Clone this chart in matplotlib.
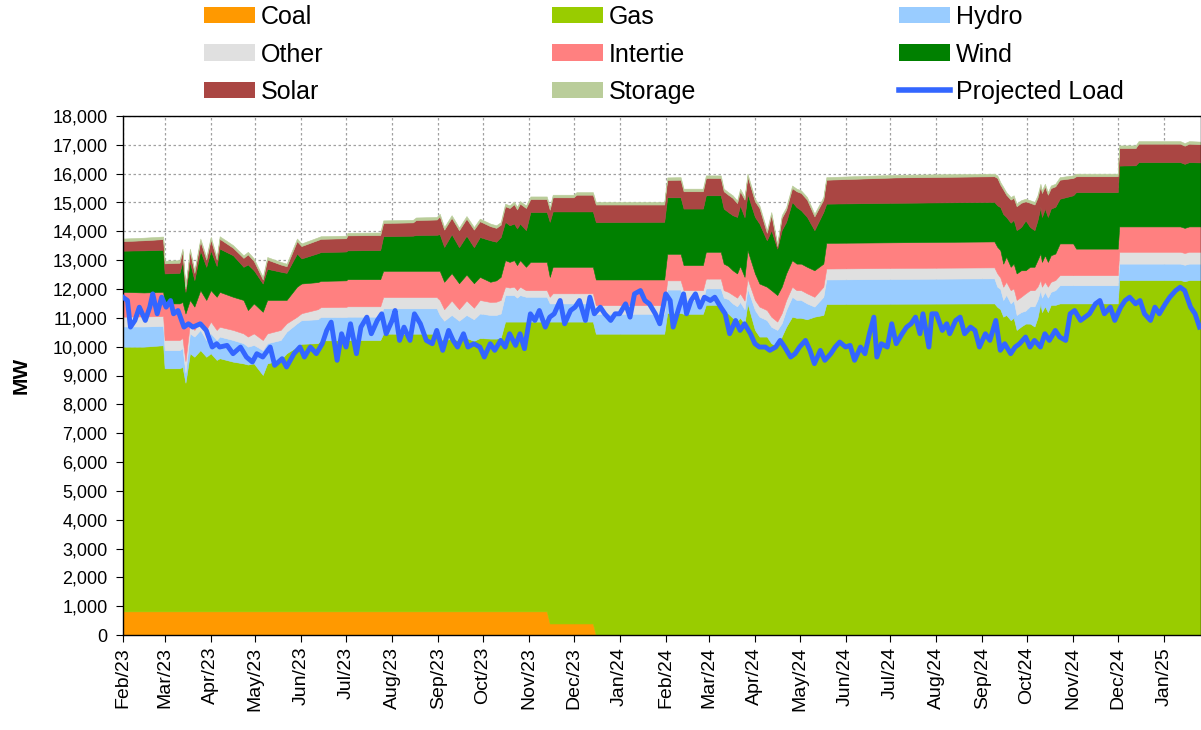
import numpy as np
import pandas as pd
import matplotlib
matplotlib.use("Agg")
import matplotlib.pyplot as plt
import matplotlib.dates as mdates
from matplotlib.patches import Patch
from matplotlib.lines import Line2D
from matplotlib.ticker import FuncFormatter, MultipleLocator

plt.rcParams["font.family"] = ["Liberation Sans", "DejaVu Sans"]

START = pd.Timestamp("2023-02-01")

# supply stack (MW), read at break points; days counted from 1 Feb 2023
stack_day = [0, 14, 27, 28, 38, 40, 42, 45, 48, 52, 56, 59, 63, 65, 74, 81, 84, 88, 94, 97,
             106, 110, 117, 120, 131, 133, 150, 151, 173, 175, 195, 197, 211, 213, 216, 221,
             226, 231, 236, 240, 247, 251, 254, 257, 260, 263, 265, 267, 271, 274, 285, 287,
             289, 303, 305, 316, 318, 364, 366, 375, 377, 390, 392, 402, 404, 407, 410, 413,
             415, 418, 420, 425, 428, 433, 436, 440, 443, 446, 450, 453, 456, 460, 465, 471,
             473, 520, 586, 588, 590, 592, 594, 597, 599, 601, 604, 607, 610, 613, 615, 617,
             618, 620, 622, 624, 627, 630, 639, 641, 669, 670, 681, 683, 711, 714, 717, 725]
coal = [820, 820, 820, 820, 820, 820, 820, 820, 820, 820, 820, 820, 820, 820, 820,
        820, 820, 820, 820, 820, 820, 820, 820, 820, 820, 820, 820, 820, 820, 820, 820, 820,
        820, 820, 820, 820, 820, 820, 820, 820, 820, 820, 820, 820, 820, 820, 820, 820, 820,
        820, 820, 400, 400, 400, 400, 400, 0, 0, 0, 0, 0, 0, 0, 0, 0, 0, 0, 0, 0, 0, 0, 0, 0,
        0, 0, 0, 0, 0, 0, 0, 0, 0, 0, 0, 0, 0, 0, 0, 0, 0, 0, 0, 0, 0, 0, 0, 0, 0, 0, 0, 0, 0,
        0, 0, 0, 0, 0, 0, 0, 0, 0, 0, 0, 0, 0, 0]
gas = [9180, 9180, 9230, 8430, 8430, 8480, 7930, 8950, 8830, 9060, 8830, 8950, 8720, 8780,
       8660, 8600, 8560, 8600, 8200, 8600, 8720, 8950, 9180, 9280, 9300, 9400, 9400, 9410,
       9410, 9630, 9630, 9630, 9630, 9480, 9380, 9480, 9380, 9480, 9380, 9480, 9460, 9460,
       9480, 10050, 10050, 10050, 10050, 10050, 10050, 10050, 10050, 10470, 10470, 10470,
       10470, 10470, 10450, 10450, 11170, 11170, 11140, 11140, 11450, 11450, 11200, 11150,
       11000, 10900, 11000, 10800, 11500, 10580, 10350, 10350, 10120, 10000, 10350, 10690,
       11040, 11000, 11000, 10950, 11040, 11100, 11480, 11490, 11500, 11380, 11300, 11040,
       11100, 10920, 11000, 10580, 10700, 10800, 10800, 10700, 11000, 11500, 11200, 11400,
       11200, 11450, 11450, 11500, 11500, 11500, 11500, 12310, 12310, 12310, 12310, 12270,
       12310, 12310]
hydro = [700, 700, 670, 630, 630, 650, 350, 690, 700, 700, 580, 690, 690, 750, 750, 700, 620,
         640, 860, 700, 690, 750, 810, 820, 830, 810, 810, 810, 810, 880, 880, 880, 880, 800,
         700, 800, 700, 800, 750, 850, 820, 820, 850, 920, 920, 920, 830, 920, 860, 860, 860,
         630, 630, 630, 630, 630, 690, 690, 810, 810, 480, 480, 570, 570, 500, 500, 500, 500,
         550, 500, 520, 690, 690, 570, 570, 580, 460, 580, 690, 620, 620, 550, 350, 630, 850,
         860, 870, 700, 700, 580, 700, 580, 600, 520, 500, 450, 600, 700, 620, 460, 500, 500,
         500, 450, 510, 630, 630, 630, 630, 570, 570, 570, 570, 570, 570, 570]
other = [340, 350, 340, 350, 350, 350, 400, 350, 230, 340, 350, 410, 350, 340, 350, 340, 350,
         400, 350, 340, 350, 290, 230, 240, 350, 340, 350, 360, 360, 390, 390, 390, 390, 520,
         400, 500, 400, 500, 400, 470, 450, 460, 470, 290, 260, 290, 260, 290, 230, 230, 230,
         230, 350, 350, 350, 350, 300, 300, 320, 320, 340, 340, 340, 340, 260, 250, 300, 300,
         300, 300, 340, 350, 350, 350, 350, 290, 350, 350, 350, 340, 340, 350, 340, 350, 380,
         380, 380, 460, 400, 460, 450, 460, 420, 520, 530, 600, 560, 560, 460, 350, 380, 350,
         380, 350, 350, 350, 350, 350, 350, 410, 410, 410, 410, 410, 410, 410]
intertie = [860, 830, 840, 1270, 1270, 1250, 1650, 810, 810, 1040, 1040, 1090, 1150, 1210, 1150,
            1160, 920, 1040, 980, 1160, 1040, 810, 1040, 1030, 940, 910, 920, 940, 940, 910, 910,
            910, 910, 1010, 950, 950, 900, 900, 850, 800, 700, 740, 800, 920, 890, 920, 870, 920,
            810, 980, 980, 690, 920, 920, 920, 920, 890, 890, 920, 920, 870, 870, 930, 930, 920,
            900, 850, 840, 950, 820, 990, 920, 800, 810, 920, 920, 920, 920, 920, 920, 920, 920,
            920, 800, 890, 890, 900, 920, 950, 800, 870, 810, 860, 920, 920, 800, 810, 810, 920,
            920, 860, 920, 860, 920, 920, 1100, 1100, 920, 920, 880, 880, 880, 880, 870, 880, 880]
wind = [1430, 1460, 1460, 1040, 1060, 1400, 750, 1320, 920, 1380, 1150, 1380, 1070, 1500, 1440,
        1150, 1580, 1150, 980, 1080, 980, 940, 1150, 870, 1000, 1000, 1000, 1000, 1010, 1200,
        1220, 1240, 1250, 1270, 1210, 1350, 1250, 1350, 1250, 1380, 1440, 1340, 1380, 1330, 1270,
        1270, 1270, 1270, 1270, 1730, 1730, 1910, 1920, 1920, 1920, 1920, 1990, 2000, 1960, 1960,
        1960, 1960, 1960, 1960, 1910, 1870, 1910, 1960, 2100, 2070, 1950, 1960, 2080, 1610, 2080,
        1610, 1960, 1790, 2020, 1960, 1850, 1730, 1390, 1790, 1360, 1370, 1370, 1440, 1490, 1720,
        1380, 1530, 1520, 1500, 1500, 1730, 1380, 1270, 1380, 1610, 1560, 1620, 1560, 1620, 1620,
        1550, 1670, 1960, 1960, 2110, 2120, 2230, 2230, 2220, 2230, 2220]
solar = [330, 350, 370, 350, 350, 360, 110, 370, 250, 320, 250, 380, 220, 340, 260, 310, 350, 320,
         140, 320, 250, 230, 430, 430, 460, 460, 460, 520, 520, 460, 460, 520, 530, 620, 600, 570,
         590, 590, 610, 550, 490, 480, 430, 540, 600, 670, 660, 690, 770, 450, 450, 420, 490, 490,
         580, 580, 610, 600, 600, 610, 600, 600, 600, 600, 600, 600, 600, 480, 490, 610, 610, 540,
         540, 260, 540, 90, 430, 420, 480, 550, 600, 600, 480, 430, 830, 880, 890, 950, 780, 850,
         770, 800, 760, 830, 840, 660, 840, 890, 780, 720, 830, 770, 770, 710, 710, 660, 600, 550,
         550, 610, 600, 640, 640, 630, 640, 630]
storage = [90, 90, 90, 90, 90, 90, 90, 90, 90, 90, 90, 90, 90, 90, 90, 90, 90, 90, 90, 90,
           90, 90, 90, 90, 90, 90, 90, 90, 90, 90, 90, 90, 90, 90, 90, 90, 90, 90, 90, 90,
           90, 90, 90, 90, 90, 90, 90, 90, 90, 90, 90, 90, 90, 90, 90, 90, 90, 90, 90, 90,
           90, 90, 90, 90, 90, 90, 90, 90, 90, 90, 90, 90, 90, 90, 90, 90, 90, 90, 90, 90,
           90, 90, 90, 90, 90, 90, 90, 90, 90, 90, 90, 90, 90, 90, 90, 90, 90, 90, 90, 90,
           90, 90, 90, 90, 90, 90, 90, 90, 90, 90, 90, 90, 90, 90, 90, 90]

# projected load (MW)
load_day = [0, 3, 5, 8, 11, 15, 18, 20, 23, 26, 29, 32, 34, 37, 41, 44, 47, 52, 56, 60, 63, 65,
            70, 74, 79, 83, 87, 90, 94, 99, 102, 107, 110, 115, 119, 122, 126, 130, 134, 137,
            140, 144, 147, 150, 153, 157, 160, 164, 167, 171, 174, 177, 181, 183, 186, 189, 193,
            196, 200, 204, 208, 211, 215, 219, 222, 225, 229, 232, 236,
            240, 243, 247, 250, 254, 257, 260, 264, 267, 270, 274, 277, 280, 284, 287, 290, 294,
            297, 301, 304, 307, 311, 314, 317, 321, 324, 328, 331, 334, 338, 341, 344, 348, 351,
            354, 358, 361, 365, 368, 370, 374, 377, 379, 382, 385, 388, 391, 395, 398, 402, 405,
            408, 412, 415, 418, 422, 425, 428, 432, 435, 439, 442, 445, 449, 452, 455, 459, 462,
            465, 469, 472, 476, 479,
            482, 486, 489, 492, 496, 499, 502, 505, 507, 510, 514, 517, 520, 524, 527, 530, 533,
            536, 538, 542, 544, 547, 551, 554, 556, 560, 563, 566, 570, 573, 576, 580, 583, 587,
            590, 593, 597, 600, 603, 607, 610, 613, 617, 620, 623, 627, 630, 634, 637, 640, 644,
            647, 650, 654, 657, 660, 664, 667, 671, 674, 677, 681, 684, 687, 691, 694, 697, 701,
            704, 708, 711, 714, 718, 721, 724]
load_mw = [11716, 11601, 10678, 10909, 11370, 10909, 11370, 11832, 11140, 11716, 11370, 11601,
           11140, 11255, 10678, 10794, 10678, 10794, 10563, 9987, 10102, 9987, 10045, 9756, 9987,
           9641, 9468, 9756, 9641, 9987, 9353, 9583, 9295, 9756, 9987, 9641, 9987, 9756, 10102,
           10563, 10851, 9526, 10448, 9987, 10794, 9756, 10678, 11024, 10448, 10909, 11140, 10448,
           10909, 11255, 10217, 10678, 10217, 11140, 10794, 10217, 10102, 10563, 9872, 10563,
           10217, 9987, 10448, 9987, 10102,
           9987, 9641, 10102, 9872, 10217, 9987, 10448, 10045, 10448, 9930, 11140, 10909, 11255,
           10678, 11024, 11140, 11601, 10794, 11255, 11370, 11601, 10909, 11716, 11140, 11370,
           11140, 10909, 11140, 11140, 11486, 11024, 11832, 11947, 11601, 11486, 11140, 10794,
           11832, 11601, 10678, 11370, 11832, 11140, 11601, 11832, 11370, 11716, 11601, 11716,
           11370, 11140, 10448, 10909, 10563, 10794, 10448, 10102, 9987, 9987, 9872, 9987, 10217,
           9987, 9641, 9756, 9987, 10217, 9872, 9410, 9872, 9526, 9756, 9987,
           10160, 9987, 10045, 9526, 9987, 9756, 10448, 11024, 9641, 10102, 9987, 10794, 10102,
           10448, 10678, 10794, 11024, 10448, 11140, 9987, 11140, 11140, 10563, 10794, 10448,
           10909, 11024, 10448, 10678, 10563, 9987, 10448, 10217, 10909, 9872, 10102, 9756, 9987,
           10102, 10333, 9987, 10217, 9987, 10448, 10217, 10563, 10333, 10217, 11140, 11255,
           10909, 11024, 11140, 11486, 11601, 11140, 11370, 10909, 11370, 11601, 11716, 11486,
           11601, 11140, 10909, 11370, 11140, 11486, 11716, 11947, 12062, 11947, 11370, 11140,
           10678]

labels = ["Coal", "Gas", "Hydro", "Other", "Intertie", "Wind", "Solar", "Storage"]
colors = ["#FF9900", "#99CC00", "#99CCFF", "#E0E0E0", "#FF8080", "#008000", "#AA4643", "#BACD9A"]
LOAD_COLOR = "#3366FF"


def main():
    stack_dates = START + pd.to_timedelta(stack_day, unit="D")
    load_dates = START + pd.to_timedelta(load_day, unit="D")

    fig = plt.figure(figsize=(12.01, 7.30), dpi=100)
    ax = fig.add_axes([123 / 1201, 1 - 635 / 730, 1 - 123 / 1201, (635 - 116) / 730])

    series = [coal, gas, hydro, other, intertie, wind, solar, storage]
    ax.stackplot(stack_dates, *series, colors=colors, edgecolor="face", linewidth=0.4,
                 zorder=2)
    ax.plot(load_dates, load_mw, color=LOAD_COLOR, lw=3.5, solid_joinstyle="round", zorder=3)

    ax.set_xlim(START, START + pd.Timedelta(days=725))
    ax.set_ylim(0, 18000)
    ax.yaxis.set_major_locator(MultipleLocator(1000))
    ax.yaxis.set_major_formatter(FuncFormatter(lambda v, p: f"{v:,.0f}"))
    ax.xaxis.set_major_locator(mdates.MonthLocator())
    ax.xaxis.set_major_formatter(mdates.DateFormatter("%b/%y"))
    ax.tick_params(axis="x", labelrotation=90, labelsize=14, length=5, direction="out")
    ax.tick_params(axis="y", labelsize=13, length=5, direction="out", pad=6)
    ax.set_ylabel("MW", fontsize=15, fontweight="bold", labelpad=16)

    ax.set_axisbelow(True)
    ax.grid(True, color="#A0A0A0", linestyle=(0, (2, 2)), linewidth=0.9, zorder=0)
    for s in ax.spines.values():
        s.set_color("black")
        s.set_linewidth(1.0)

    # legend: three columns placed like the original
    handles = [Patch(facecolor=c, edgecolor="none") for c in colors]
    handles.append(Line2D([], [], color=LOAD_COLOR, lw=4))
    names = labels + ["Projected Load"]
    cols = [[0, 3, 6], [1, 4, 7], [2, 5, 8]]
    xs = [204 / 1201, 552 / 1201, 899 / 1201]
    for x, idx in zip(xs, cols):
        fig.legend([handles[i] for i in idx], [names[i] for i in idx],
                   loc="upper left", bbox_to_anchor=(x, 1 - 5 / 730), frameon=False,
                   fontsize=18, handlelength=2.04, handleheight=0.64, handletextpad=0.24,
                   labelspacing=0.54, borderaxespad=0.0, borderpad=0.0)

    fig.savefig("out.png", dpi=100)
    plt.close(fig)


if __name__ == "__main__":
    main()
